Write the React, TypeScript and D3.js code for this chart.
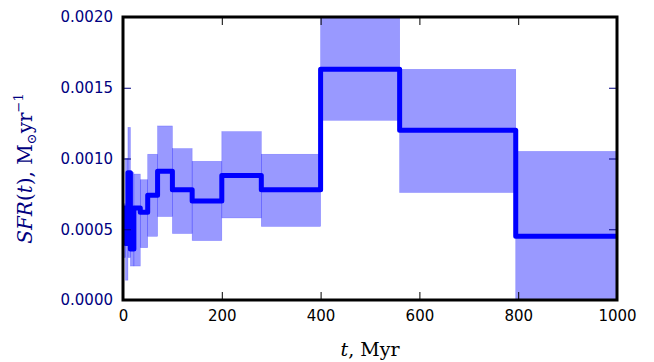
import React, { useEffect, useRef } from 'react'
import * as d3 from 'd3'

// bin edges in Myr and SFR per bin
const binEdges = [0, 5, 10, 15, 22, 35, 50, 70, 100, 140, 200, 280, 400, 560, 795, 1000]
const sfrValues = [0.00065, 0.0004, 0.0009, 0.00036, 0.00065, 0.00062, 0.00074, 0.00091, 0.00078, 0.0007, 0.00088, 0.00078, 0.00163, 0.0012, 0.00045]
const sfrLow = [0.0003, 0.00014, 0.0003, 0.00024, 0.00024, 0.00037, 0.00045, 0.00059, 0.00047, 0.00042, 0.00058, 0.00052, 0.00127, 0.00076, -0.0001]
const sfrHigh = [0.00068, 0.001, 0.00122, 0.0009, 0.00089, 0.00085, 0.00103, 0.00123, 0.00107, 0.00098, 0.00119, 0.00103, 0.0021, 0.00163, 0.00105]
const xTicks = [0, 200, 400, 600, 800, 1000]
const yTicks = [0, 0.0005, 0.001, 0.0015, 0.002]

const W = 654
const H = 362

export default function App() {
  const svgRef = useRef<SVGSVGElement>(null)

  useEffect(() => {
    const svg = d3.select(svgRef.current)
    svg.selectAll('*').remove()

    const margin = { top: 17, right: 37, bottom: 62, left: 123 }
    const iw = W - margin.left - margin.right
    const ih = H - margin.top - margin.bottom

    const x = d3.scaleLinear().domain([0, 1000]).range([0, iw])
    const y = d3.scaleLinear().domain([0, 0.002]).range([ih, 0])

    svg.append('rect').attr('width', W).attr('height', H).attr('fill', '#fff')

    const g = svg.append('g').attr('transform', `translate(${margin.left},${margin.top})`)

    svg.append('defs').append('clipPath').attr('id', 'plotclip')
      .append('rect').attr('width', iw).attr('height', ih)

    const plot = g.append('g').attr('clip-path', 'url(#plotclip)')

    const bins = sfrValues.map((v, i) => ({ x0: binEdges[i], x1: binEdges[i + 1], v, lo: sfrLow[i], hi: sfrHigh[i] }))

    plot.selectAll('rect.band')
      .data(bins)
      .enter()
      .append('rect')
      .attr('class', 'band')
      .attr('x', d => x(d.x0))
      .attr('width', d => x(d.x1) - x(d.x0))
      .attr('y', d => y(d.hi))
      .attr('height', d => y(d.lo) - y(d.hi))
      .attr('fill', '#0000ff')
      .attr('fill-opacity', 0.4)
      .attr('stroke', '#0000ff')
      .attr('stroke-opacity', 0.3)
      .attr('stroke-width', 0.6)

    const pts: [number, number][] = bins.map(d => [d.x0, d.v])
    pts.push([1000, sfrValues[sfrValues.length - 1]])

    const line = d3.line<[number, number]>()
      .x(d => x(d[0]))
      .y(d => y(d[1]))
      .curve(d3.curveStepAfter)

    plot.append('path')
      .datum(pts)
      .attr('d', line)
      .attr('fill', 'none')
      .attr('stroke', '#0000ff')
      .attr('stroke-width', 5)
      .attr('stroke-linejoin', 'round')

    const tickFont = '"DejaVu Sans", sans-serif'
    const navy = '#000080'

    const xb = g.append('g')
      .attr('transform', `translate(0,${ih})`)
      .call(d3.axisBottom(x).tickValues(xTicks).tickSize(-8).tickPadding(10).tickFormat(d3.format('d')))
    const xt = g.append('g')
      .call(d3.axisTop(x).tickValues(xTicks).tickSize(-8).tickFormat(() => ''))
    const yl = g.append('g')
      .call(d3.axisLeft(y).tickValues(yTicks).tickSize(-8).tickPadding(10).tickFormat(d3.format('.4f')))
    const yr = g.append('g')
      .attr('transform', `translate(${iw},0)`)
      .call(d3.axisRight(y).tickValues(yTicks).tickSize(-8).tickFormat(() => ''))

    for (const a of [xb, xt, yl, yr]) {
      a.select('.domain').remove()
      a.selectAll('text').attr('font-family', tickFont).attr('font-size', 15)
    }
    xb.selectAll('line').attr('stroke', '#000')
    xt.selectAll('line').attr('stroke', '#000')
    xb.selectAll('text').attr('fill', '#000')
    yl.selectAll('line').attr('stroke', navy)
    yr.selectAll('line').attr('stroke', navy)
    yl.selectAll('text').attr('fill', navy)

    // frame
    g.append('rect')
      .attr('width', iw)
      .attr('height', ih)
      .attr('fill', 'none')
      .attr('stroke', '#000')
      .attr('stroke-width', 3)

    const serif = '"DejaVu Serif", serif'

    const xl = svg.append('text')
      .attr('x', margin.left + iw / 2)
      .attr('y', 356)
      .attr('text-anchor', 'middle')
      .attr('font-family', serif)
      .attr('font-size', 19)
      .attr('fill', '#000')
    xl.append('tspan').attr('font-style', 'italic').text('t')
    xl.append('tspan').text(', Myr')

    const ylab = svg.append('text')
      .attr('transform', `translate(32,${margin.top + ih / 2 + 10}) rotate(-90)`)
      .attr('text-anchor', 'middle')
      .attr('font-family', serif)
      .attr('font-size', 20)
      .attr('fill', navy)
    ylab.append('tspan').attr('font-style', 'italic').text('SFR')
    ylab.append('tspan').text('(')
    ylab.append('tspan').attr('font-style', 'italic').text('t')
    ylab.append('tspan').text('), M')
    ylab.append('tspan').attr('font-size', 13).attr('dy', 4).text('⊙')
    ylab.append('tspan').attr('dy', -4).text('yr')
    ylab.append('tspan').attr('font-size', 13).attr('dy', -9).text('−1')
  }, [])

  return (
    <div style={{ position: 'absolute', left: 0, top: 0 }}>
      <svg ref={svgRef} width={W} height={H}></svg>
    </div>
  )
}
